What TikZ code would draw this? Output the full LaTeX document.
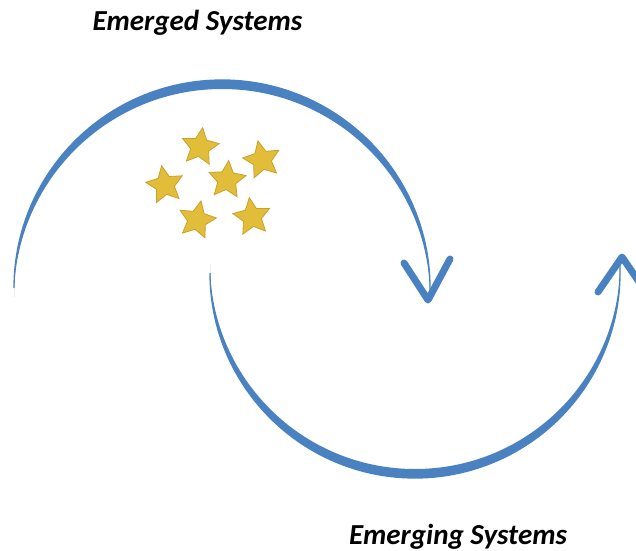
\documentclass[tikz,border=0pt]{standalone}
\usepackage{fontspec}
\setmainfont{Carlito}
\usetikzlibrary{shapes.geometric}
\definecolor{arcblue}{HTML}{4A82C1}
\definecolor{stargold}{HTML}{E2BD3A}
\definecolor{staredge}{HTML}{C9A12A}
\begin{document}
\begin{tikzpicture}[x=1pt,y=1pt,
  starry/.style={star, star points=5, star point ratio=2.05, fill=stargold, draw=staredge, line width=0.8pt, minimum size=39pt, inner sep=0pt},
  caption/.style={font=\fontsize{29}{33}\selectfont\bfseries\itshape, inner sep=0pt, anchor=base},
  arrowv/.style={draw=arcblue, line width=7pt, line cap=round, line join=round},
  thinarc/.style={draw=arcblue, line width=1.3pt}]
\useasboundingbox (0,0) rectangle (636,550);
\clip (0,0) rectangle (636,550);
% upper arc (Emerged)
\fill[arcblue] (14,262) arc[start angle=180, end angle=0, radius=208]
  -- (430,253) arc[start angle=0, end angle=180, radius=208] -- cycle;
\draw[thinarc] (14,262) arc[start angle=180, end angle=-3, radius=208] coordinate (uend);
\coordinate (utip) at (428,250);
\draw[arrowv] (404,287) -- (utip) -- (450,291);
% lower arc (Emerging)
\fill[arcblue] (210,277) arc[start angle=180, end angle=360, radius=205]
  -- (620,286) arc[start angle=360, end angle=180, radius=205] -- cycle;
\draw[thinarc] (210,277) arc[start angle=180, end angle=364, radius=205] coordinate (lend);
\coordinate (ltip) at (622,293);
\draw[arrowv] (598,258) -- (ltip) -- (646,258);
% stars
\node[starry, rotate=-8] (s1) at (200,403) {};
\node[starry, rotate=10] (s2) at (165,365) {};
\node[starry, rotate=-5] (s3) at (227,370) {};
\node[starry, rotate=12] (s4) at (262,390) {};
\node[starry, rotate=-12] (s5) at (197,330) {};
\node[starry, rotate=8] (s6) at (252,333) {};
% captions
\node[caption] (t1) at (197.5,519) {Emerged Systems};
\node[caption] (t2) at (458,6) {Emerging Systems};
\end{tikzpicture}
\end{document}
